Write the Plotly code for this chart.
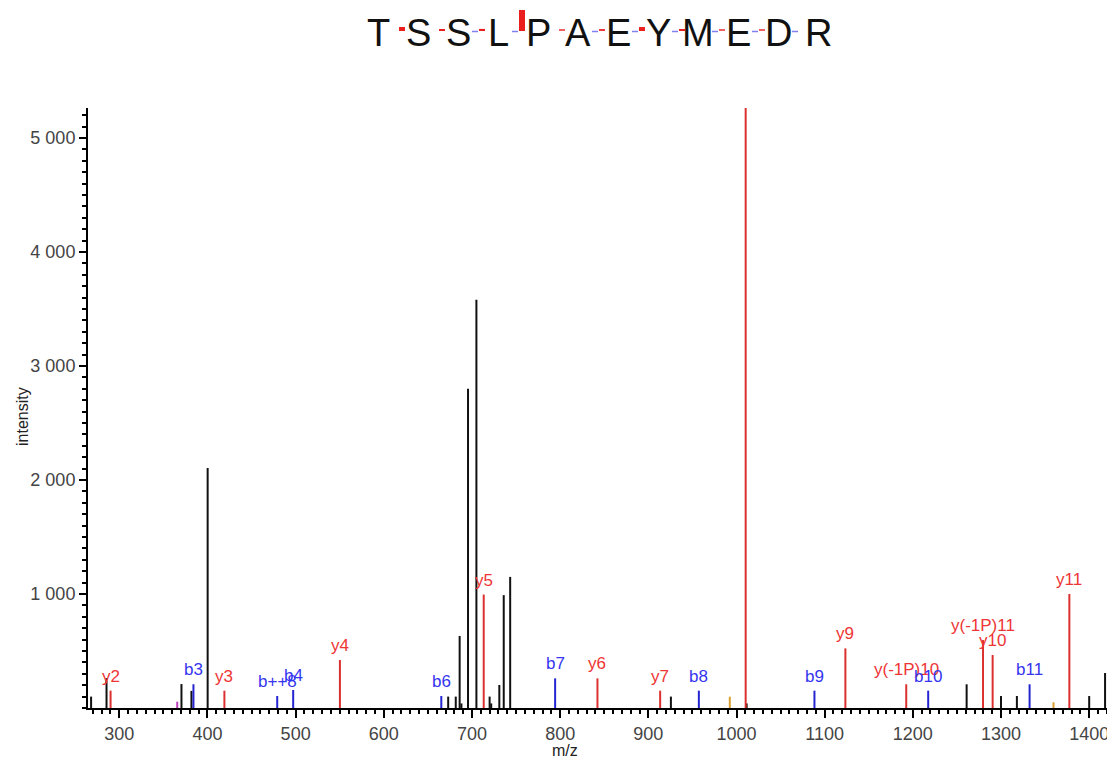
import plotly.graph_objects as go

# peptide sequence shown on top
sequence = ["T", "S", "S", "L", "P", "A", "E", "Y", "M", "E", "D", "R"]
# fragment coverage per gap (between residue i and i+1)
gap_b = [False, False, True, True, False, True, True, True, True, True, True]
gap_y_int = [1000, 465, 523, 5270, 152, 260, 995, 421, 152, 152, 0]

# unassigned peaks (m/z, intensity)
black_mz = [268.0, 285.5, 370.5, 381.8, 400.2, 673.0, 681.6, 686.0, 688.0, 695.5, 705.0,
            720.0, 721.8, 731.0, 736.0, 743.3, 925.6, 1011.5, 1261.0, 1300.0, 1318.0,
            1400.0, 1418.0]
black_int = [100, 262, 210, 150, 2105, 100, 100, 632, 40, 2800, 3580,
             100, 40, 202, 990, 1150, 100, 40, 208, 105, 105,
             105, 307]

# y ions
y_labels = ["y2", "y3", "y4", "y5", "y6", "y7", "y8", "y9", "y(-1P)10", "y(-1P)11", "y10", "y11"]
y_mz = [290.1, 419.2, 550.2, 713.3, 842.3, 913.4, 1010.4, 1123.5, 1192.5, 1279.6, 1290.5, 1377.5]
y_int = [152, 152, 421, 995, 260, 152, 5270, 523, 208, 596, 465, 1000]

# b ions
b_labels = ["b3", "b++8", "b4", "b6", "b7", "b8", "b9", "b10", "b11"]
b_mz = [384.1, 479.1, 497.2, 665.2, 794.3, 957.3, 1088.4, 1217.4, 1332.4]
b_int = [208, 105, 158, 105, 260, 152, 152, 152, 208]

# neutral losses / other
orange_mz = [992.4, 1359.5]
orange_int = [99, 50]
magenta_mz = [365.7]
magenta_int = [55]

OFF = 8  # page body margin
W, H = 1115 - OFF, 765 - OFF
# plot box in window pixels: x 88..1107, y 108..708
L, T = 88 - OFF, 108 - OFF
R = 8
B = H - (708 - OFF)
PW, PH = W - L - R, H - T - B


def stems(mz, inten):
    xs, ys = [], []
    for m, i in zip(mz, inten):
        xs += [m, m, None]
        ys += [0, i, None]
    return xs, ys


def px(x):
    return (x - OFF - L) / PW


def py(y):
    return (H - B - (y - OFF)) / PH


fig = go.Figure()
for mz, inten, col in [(black_mz, black_int, "#111111"),
                       (magenta_mz, magenta_int, "#c040c0"),
                       (orange_mz, orange_int, "#d8a030"),
                       (b_mz, b_int, "#2424d0"),
                       (y_mz, y_int, "#dc3030")]:
    xs, ys = stems(mz, inten)
    fig.add_trace(go.Scatter(x=xs, y=ys, mode="lines", line=dict(color=col, width=2),
                             hoverinfo="skip", showlegend=False))

lab_font = dict(family="Liberation Sans, Arial", size=17)
for lab, m, i in zip(y_labels, y_mz, y_int):
    fig.add_annotation(x=m, y=i, text=lab, showarrow=False, yanchor="bottom", yshift=3,
                       font=dict(lab_font, color="#ee3535"))
for lab, m, i in zip(b_labels, b_mz, b_int):
    fig.add_annotation(x=m, y=i, text=lab, showarrow=False, yanchor="bottom", yshift=3,
                       font=dict(lab_font, color="#3535f0"))

# sequence header
for k, aa in enumerate(sequence):
    fig.add_annotation(xref="paper", yref="paper", x=px(378 + 40 * k), y=py(33), text=aa,
                       showarrow=False, xanchor="center", yanchor="middle",
                       font=dict(family="Liberation Sans, Arial", size=38, color="#111111"))
for k in range(len(gap_b)):
    c = 398 + 40 * k
    if gap_b[k]:
        fig.add_shape(type="line", xref="paper", yref="paper", x0=px(c - 6), x1=px(c),
                      y0=py(31.5), y1=py(31.5), line=dict(color="#8080f0", width=1.5))
    if gap_y_int[k] > 0:
        hgt = max(2.0, gap_y_int[k] / max(y_int) * 21)
        alpha = min(1.0, 0.45 + gap_y_int[k] / 600)
        fig.add_shape(type="rect", xref="paper", yref="paper", x0=px(c + 1), x1=px(c + 7),
                      y0=py(31), y1=py(31 - hgt), line=dict(width=0),
                      fillcolor="rgba(235,30,30,%.2f)" % alpha)

# axis titles
fig.add_annotation(xref="paper", yref="paper", x=px(565), y=py(750), text="m/z",
                   showarrow=False, xanchor="center", yanchor="middle",
                   font=dict(family="Liberation Sans, Arial", size=16, color="#222"))
fig.add_annotation(xref="paper", yref="paper", x=px(22), y=py(417), text="intensity",
                   textangle=-90, showarrow=False, xanchor="center", yanchor="middle",
                   font=dict(family="Liberation Sans, Arial", size=16, color="#222"))

fig.update_layout(
    width=W, height=H,
    margin=dict(l=L, r=R, t=T, b=B),
    plot_bgcolor="white", paper_bgcolor="white",
    separators=". ",
    font=dict(family="Liberation Sans, Arial", size=18, color="#444444"),
)
fig.update_xaxes(range=[264.5, 1420.2], showgrid=False, zeroline=False, automargin=False,
                 showline=True, linecolor="black", linewidth=2,
                 ticks="outside", ticklen=8, tickwidth=1.5, tickcolor="black",
                 tickmode="linear", tick0=0, dtick=100,
                 minor=dict(ticks="outside", ticklen=4, tickwidth=1.5, tickcolor="black", dtick=10, tick0=0))
fig.update_yaxes(range=[0, 5263], showgrid=False, zeroline=False, automargin=False,
                 showline=True, linecolor="black", linewidth=2,
                 ticks="outside", ticklen=7, tickwidth=1.5, tickcolor="black",
                 tickvals=[1000, 2000, 3000, 4000, 5000], tickformat=",d",
                 minor=dict(ticks="outside", ticklen=4, tickwidth=1.5, tickcolor="black",
                            tickmode="linear", dtick=100, tick0=0))

fig.write_html("out.html")
